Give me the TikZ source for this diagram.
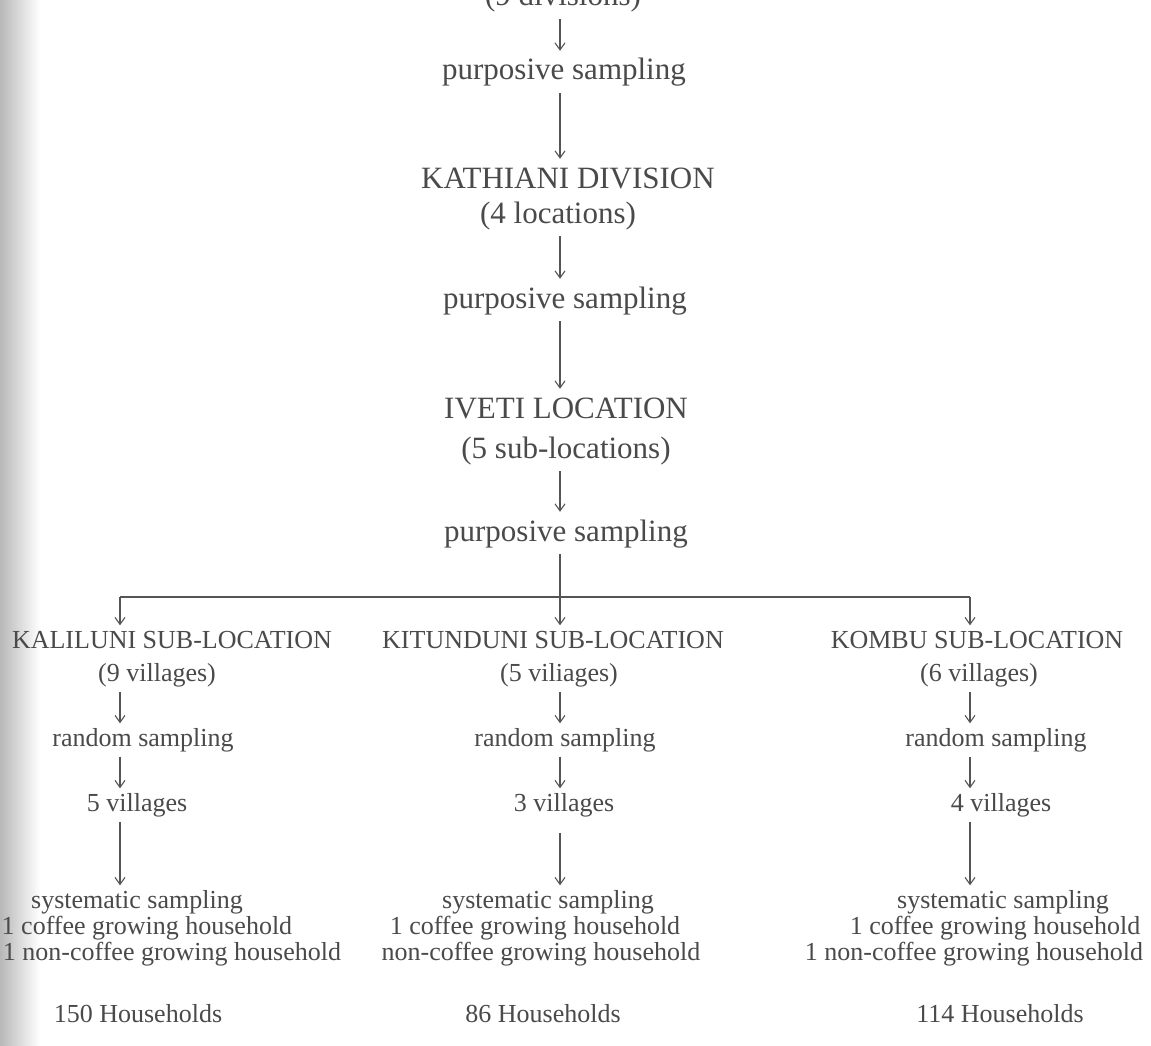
\documentclass[tikz,border=0pt]{standalone}
\usepackage{fontspec}
\setmainfont{Liberation Serif}
\usetikzlibrary{arrows.meta}
\definecolor{ink}{HTML}{4A4A4A}
\definecolor{wire}{HTML}{555555}
\begin{document}
\begin{tikzpicture}[x=1pt,y=-1pt,
  big/.style={font=\fontsize{31}{36}\selectfont, text=ink, inner xsep=0pt, inner ysep=7pt, text height=22pt, text depth=6pt},
  small/.style={font=\fontsize{26}{30}\selectfont, text=ink, inner xsep=0pt, inner ysep=5pt, text height=18pt, text depth=5pt},
  arr/.style={draw=wire, line width=1.1pt, -{Straight Barb[length=7pt,width=10pt]}},
  wireline/.style={draw=wire, line width=1.1pt}]
\useasboundingbox (0,0) rectangle (1151,1046);
\fill[white] (0,0) rectangle (1151,1046);
\shade[left color=black!28, right color=white] (0,0) rectangle (40,1046);

% column coordinates
\coordinate (cm) at (560,0);
\coordinate (cl) at (120,0);
\coordinate (cr) at (970,0);
\coordinate (jn) at (560,597);
\coordinate (bl) at (120,597);
\coordinate (br) at (970,597);

% top chain
\node[big] (div) at (563,-2) {(9 divisions)};
\node[big] (ps1) at (564,72) {purposive sampling};
\node[big] (kath) at (568,180) {KATHIANI DIVISION};
\node[big] (loc4) at (558,215) {(4 locations)};
\node[big] (ps2) at (565,300) {purposive sampling};
\node[big] (iveti) at (566,410) {IVETI LOCATION};
\node[big] (sub5) at (566,450) {(5 sub-locations)};
\node[big] (ps3) at (566,533) {purposive sampling};

\draw[arr] (div.south -| cm) -- (ps1.north -| cm);
\draw[arr] (ps1.south -| cm) -- (kath.north -| cm);
\draw[arr] (loc4.south -| cm) -- (ps2.north -| cm);
\draw[arr] (ps2.south -| cm) -- (iveti.north -| cm);
\draw[arr] (sub5.south -| cm) -- (ps3.north -| cm);
\draw[wireline] (ps3.south -| cm) -- (jn);
\draw[wireline] (bl) -- (br);

% left column
\node[small] (kal) at (172,642) {KALILUNI SUB-LOCATION};
\node[small] (kal9) at (157,675) {(9 villages)};
\node[small] (kalr) at (143,740) {random sampling};
\node[small] (kal5) at (137,805) {5 villages};
\node[small] (kals) at (137,902) {systematic sampling};
\node[small] (kalc) at (147,928) {1 coffee growing household};
\node[small] (kaln) at (172,954) {1 non-coffee growing household};
\node[small] (kalh) at (138,1016) {150 Households};

\draw[arr] (bl) -- (kal.north -| bl);
\draw[arr] (kal9.south -| cl) -- (kalr.north -| cl);
\draw[arr] (kalr.south -| cl) -- (kal5.north -| cl);
\draw[arr] (kal5.south -| cl) -- (kals.north -| cl);

% middle column
\node[small] (kit) at (553,642) {KITUNDUNI SUB-LOCATION};
\node[small] (kit5) at (559,675) {(5 viliages)};
\node[small] (kitr) at (565,740) {random sampling};
\node[small] (kit3) at (564,805) {3 villages};
\node[small] (kits) at (548,902) {systematic sampling};
\node[small] (kitc) at (535,928) {1 coffee growing household};
\node[small] (kitn) at (541,954) {non-coffee growing household};
\node[small] (kith) at (543,1016) {86 Households};

\draw[arr] (jn) -- (kit.north -| jn);
\draw[arr] (kit5.south -| cm) -- (kitr.north -| cm);
\draw[arr] (kitr.south -| cm) -- (kit3.north -| cm);
\draw[arr, shorten <=11pt] (kit3.south -| cm) -- (kits.north -| cm);

% right column
\node[small] (kom) at (977,642) {KOMBU SUB-LOCATION};
\node[small] (kom6) at (979,675) {(6 villages)};
\node[small] (komr) at (996,740) {random sampling};
\node[small] (kom4) at (1001,805) {4 villages};
\node[small] (koms) at (1003,902) {systematic sampling};
\node[small] (komc) at (995,928) {1 coffee growing household};
\node[small] (komn) at (974,954) {1 non-coffee growing household};
\node[small] (komh) at (1000,1016) {114 Households};

\draw[arr] (br) -- (kom.north -| br);
\draw[arr] (kom6.south -| cr) -- (komr.north -| cr);
\draw[arr] (komr.south -| cr) -- (kom4.north -| cr);
\draw[arr] (kom4.south -| cr) -- (koms.north -| cr);
\end{tikzpicture}
\end{document}
